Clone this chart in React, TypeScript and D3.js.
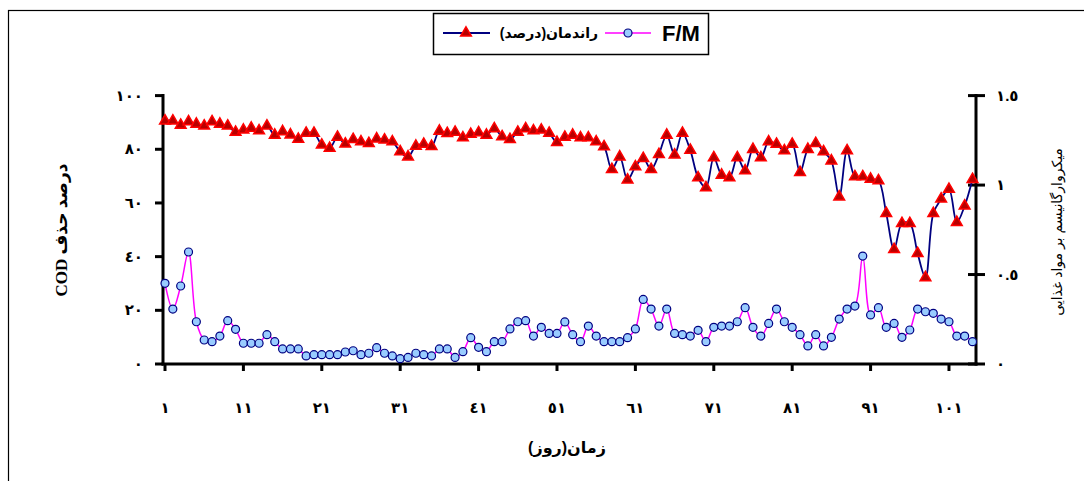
import React from "react";
import * as d3 from "d3";

const days: number[] = Array.from({ length: 104 }, (_, i) => i + 1);

const removal: number[] = [
  90.6, 90.6, 89.0, 90.3, 89.4, 88.7, 90.3, 89.4, 88.7, 86.4,
  87.2, 87.9, 86.9, 88.7, 85.3, 86.6, 85.4, 83.8, 86.0, 86.0,
  81.6, 80.4, 84.5, 82.0, 83.7, 82.8, 82.2, 83.9, 83.5, 82.8,
  79.1, 77.2, 81.2, 81.9, 81.1, 86.8, 85.9, 86.4, 84.3, 85.6,
  86.2, 85.3, 87.7, 84.7, 83.7, 86.4, 87.7, 86.9, 87.2, 86.0,
  82.6, 84.5, 85.3, 84.3, 84.3, 82.8, 81.0, 72.5, 77.2, 68.6,
  73.5, 76.6, 72.5, 78.1, 85.3, 77.9, 86.0, 79.7, 69.4, 65.7,
  76.9, 70.4, 69.4, 76.9, 72.0, 80.0, 76.9, 82.8, 81.9, 79.5,
  81.9, 71.4, 80.0, 82.2, 79.1, 75.7, 62.3, 79.5, 69.8, 69.8,
  68.9, 68.3, 56.1, 42.7, 52.4, 52.4, 41.2, 32.2, 56.1, 61.5,
  65.1, 52.8, 58.9, 68.8,
];

const fm: number[] = [
  0.451, 0.307, 0.436, 0.626, 0.236, 0.134, 0.125, 0.156, 0.242, 0.194,
  0.116, 0.116, 0.116, 0.164, 0.125, 0.084, 0.084, 0.084, 0.045, 0.052,
  0.052, 0.052, 0.052, 0.067, 0.074, 0.052, 0.060, 0.091, 0.060, 0.045,
  0.030, 0.037, 0.060, 0.052, 0.045, 0.084, 0.084, 0.037, 0.069, 0.147,
  0.093, 0.069, 0.125, 0.125, 0.196, 0.236, 0.242, 0.156, 0.205, 0.171,
  0.171, 0.235, 0.164, 0.125, 0.212, 0.156, 0.125, 0.125, 0.125, 0.147,
  0.196, 0.361, 0.307, 0.212, 0.307, 0.171, 0.164, 0.156, 0.188, 0.125,
  0.205, 0.212, 0.212, 0.236, 0.315, 0.205, 0.156, 0.227, 0.307, 0.236,
  0.205, 0.164, 0.101, 0.164, 0.101, 0.149, 0.251, 0.307, 0.324, 0.603,
  0.274, 0.315, 0.205, 0.227, 0.149, 0.190, 0.307, 0.292, 0.283, 0.251,
  0.236, 0.156, 0.156, 0.125,
];

const xTicks: number[] = [1, 11, 21, 31, 41, 51, 61, 71, 81, 91, 101];
const leftTicks: number[] = [0, 20, 40, 60, 80, 100];
const rightTicks: number[] = [0, 0.5, 1, 1.5];

const toArabicDigits = (s: string) =>
  s.replace(/[0-9]/g, (d) => "٠١٢٣٤٥٦٧٨٩"[+d]);

const leftTitle = "COD درصد حذف";
const rightTitle = "میکروارگانیسم بر مواد غذایی";
const xTitle = "زمان(روز)";
const legendRemoval = "راندمان(درصد)";
const legendFM = "F/M";

export default function App() {
  const W = 1084;
  const H = 481;
  const x = d3.scaleLinear().domain([1, 104]).range([165, 972.5]);
  const yL = d3.scaleLinear().domain([0, 100]).range([364, 95.6]);
  const yR = d3.scaleLinear().domain([0, 1.5]).range([364, 95.6]);

  const lineRem = d3
    .line<number>()
    .x((_, i) => x(days[i]))
    .y((d) => yL(d))
    .curve(d3.curveCatmullRom.alpha(0.5));
  const lineFM = d3
    .line<number>()
    .x((_, i) => x(days[i]))
    .y((d) => yR(d))
    .curve(d3.curveCatmullRom.alpha(0.5));

  const tri = d3.symbol(d3.symbolTriangle, 50)() as string;
  const font = "'Liberation Sans', 'DejaVu Sans', Arial, sans-serif";
  const serif = "'Liberation Serif', 'DejaVu Sans', serif";

  return (
    <svg
      width={W}
      height={H}
      style={{ position: "absolute", left: 0, top: 0, background: "#fff" }}
      fontFamily={font}
    >
      <rect x={0} y={0} width={W} height={H} fill="#fff" />
      <rect x={8.5} y={10.5} width={1090} height={480} fill="none" stroke="#000" strokeWidth={1.2} />

      {/* Legend */}
      <rect x={433.5} y={13.5} width={275} height={41} fill="#fff" stroke="#000" strokeWidth={1.5} />
      <line x1={443} x2={490} y1={33} y2={33} stroke="#000080" strokeWidth={1.8} />
      <path d={tri} transform="translate(466,33)" fill="#b80000" stroke="#ff0000" strokeWidth={1.5} />
      <text x={549} y={38} textAnchor="middle" fontSize={14} fontWeight="bold" direction="rtl" letterSpacing={1}>
        {legendRemoval}
      </text>
      <line x1={605} x2={651} y1={33} y2={33} stroke="#ff00ff" strokeWidth={1.5} />
      <circle cx={628} cy={33} r={4} fill="#99ccff" stroke="#000080" strokeWidth={1.2} />
      <text x={681} y={41} textAnchor="middle" fontSize={22} fontWeight="bold">
        {legendFM}
      </text>

      {/* Axes */}
      <line x1={163} x2={163} y1={94} y2={365.5} stroke="#000" strokeWidth={3} />
      <line x1={976} x2={976} y1={94} y2={365.5} stroke="#000" strokeWidth={3} />
      <line x1={161.5} x2={977.5} y1={364} y2={364} stroke="#000" strokeWidth={3} />
      {leftTicks.map((t) => (
        <g key={"l" + t}>
          <line x1={155} x2={163} y1={yL(t)} y2={yL(t)} stroke="#000" strokeWidth={3} />
          <text x={143} y={yL(t) + 5} textAnchor="end" fontSize={15} fontWeight="bold" letterSpacing={2}>
            {toArabicDigits(String(t))}
          </text>
        </g>
      ))}
      {rightTicks.map((t) => (
        <g key={"r" + t}>
          <line x1={968} x2={985} y1={yR(t)} y2={yR(t)} stroke="#000" strokeWidth={3} />
          <text x={996} y={yR(t) + 5} textAnchor="start" fontSize={15} fontWeight="bold">
            {toArabicDigits(String(t))}
          </text>
        </g>
      ))}
      {xTicks.map((t) => (
        <g key={"x" + t}>
          <line x1={x(t)} x2={x(t)} y1={364} y2={371} stroke="#000" strokeWidth={3} />
          <text x={x(t)} y={413} textAnchor="middle" fontSize={15} fontWeight="bold" letterSpacing={2}>
            {toArabicDigits(String(t))}
          </text>
        </g>
      ))}

      {/* Axis titles */}
      <text
        transform="translate(67,230) rotate(-90)"
        textAnchor="middle"
        fontSize={17}
        fontWeight="bold"
        fontFamily={serif}
      >
        {leftTitle}
      </text>
      <text
        transform="translate(1062,232) rotate(-90)"
        textAnchor="middle"
        fontSize={14}
      >
        {rightTitle}
      </text>
      <text x={567} y={453} textAnchor="middle" fontSize={16} fontWeight="bold">
        {xTitle}
      </text>

      {/* Series */}
      <path d={lineRem(removal) || ""} fill="none" stroke="#000080" strokeWidth={1.8} />
      {removal.map((v, i) => (
        <path
          key={"t" + i}
          d={tri}
          transform={`translate(${x(days[i])},${yL(v)})`}
          fill="#b80000"
          stroke="#ff0000"
          strokeWidth={1.5}
        />
      ))}
      <path d={lineFM(fm) || ""} fill="none" stroke="#ff00ff" strokeWidth={1.5} />
      {fm.map((v, i) => (
        <circle
          key={"c" + i}
          cx={x(days[i])}
          cy={yR(v)}
          r={4}
          fill="#99ccff"
          stroke="#000080"
          strokeWidth={1.2}
        />
      ))}
    </svg>
  );
}
